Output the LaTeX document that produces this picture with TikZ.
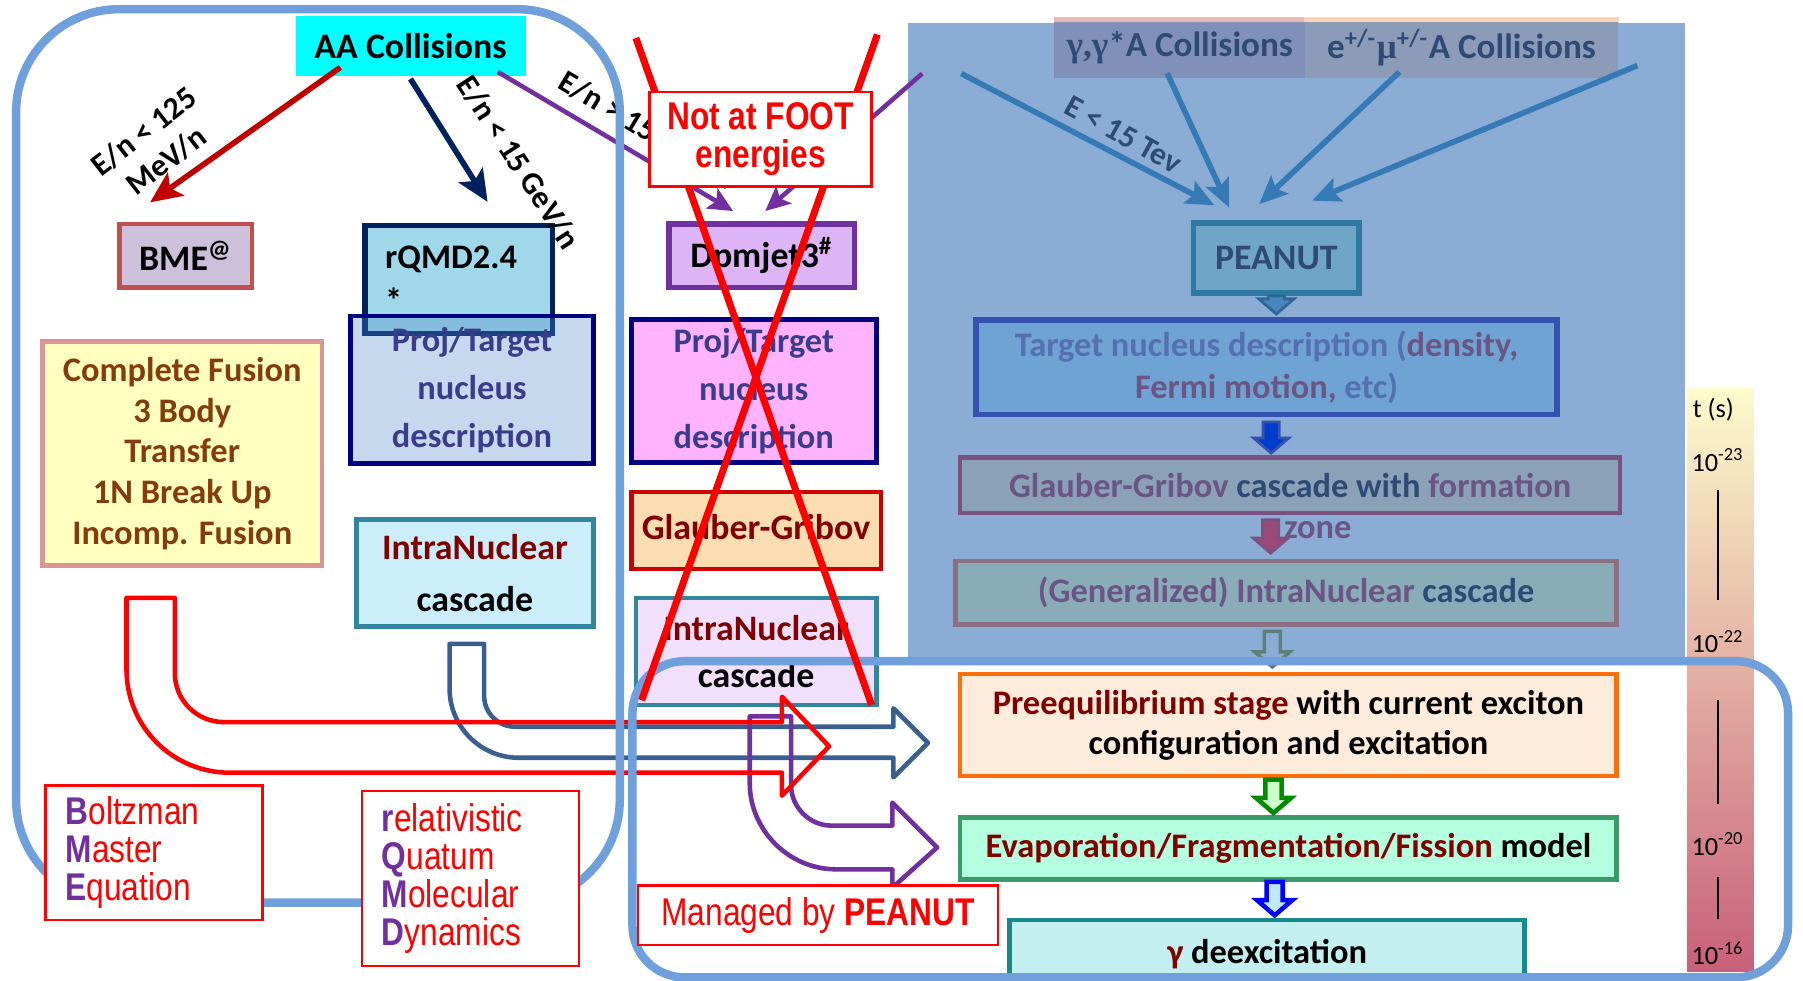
\documentclass[tikz,border=0pt]{standalone}
\usepackage{fontspec}
\setmainfont{Carlito}
\newfontfamily\arialn[FakeStretch=0.82]{Liberation Sans}
\newfontfamily\grk{Liberation Serif}
\usepackage{tikz}
\usetikzlibrary{calc,arrows.meta}
\newcommand{\px}{0.0115cm}
\newcommand{\ini}[1]{\textcolor{lpurple}{\bfseries #1}}

\definecolor{outl}{HTML}{6FA0DC}
\definecolor{aqua}{HTML}{00FFFF}
\definecolor{peanbg}{HTML}{8BADD5}
\definecolor{hdrA}{HTML}{8190B8}
\definecolor{hdrAtop}{HTML}{E6B9B8}
\definecolor{hdrB}{HTML}{8C9CB8}
\definecolor{hdrBtop}{HTML}{FCD5B4}
\definecolor{fadetxt}{HTML}{2F4B75}
\definecolor{fadearr}{HTML}{3579B5}
\definecolor{fadepurp}{HTML}{6A5585}
\definecolor{fadeblue}{HTML}{5570B0}
\definecolor{peanbd}{HTML}{2E79A2}
\definecolor{peanfill}{HTML}{6FA5C6}
\definecolor{tgtbd}{HTML}{3352B0}
\definecolor{tgtfill}{HTML}{6FA3D3}
\definecolor{glbd}{HTML}{7A5282}
\definecolor{glfill}{HTML}{8AA1B8}
\definecolor{genbd}{HTML}{8A7080}
\definecolor{genfill}{HTML}{8AACB8}
\definecolor{genarr}{HTML}{5E7F78}
\definecolor{mauve}{HTML}{9A4A78}
\definecolor{darkred}{HTML}{800000}
\definecolor{darkred2}{HTML}{C00000}
\definecolor{brownt}{HTML}{843C0C}
\definecolor{slate}{HTML}{3C3C8C}
\definecolor{lpurple}{HTML}{7030A0}
\definecolor{navy}{HTML}{002060}
\definecolor{navyb}{HTML}{000080}
\definecolor{bmebd}{HTML}{C0504D}
\definecolor{bmefill}{HTML}{CCC0DA}
\definecolor{rqfill}{HTML}{A0D8EA}
\definecolor{projL}{HTML}{4B87C9}
\definecolor{cfbd}{HTML}{D99694}
\definecolor{cffill}{HTML}{FFFFC0}
\definecolor{incbd}{HTML}{31859C}
\definecolor{incL}{HTML}{CCEEFA}
\definecolor{incM}{HTML}{F1E0FB}
\definecolor{dpmfill}{HTML}{DDB5F7}
\definecolor{projM}{HTML}{FFB3FF}
\definecolor{redbd}{HTML}{CC0000}
\definecolor{glM}{HTML}{FCDDB2}
\definecolor{preqbd}{HTML}{FF6D0A}
\definecolor{preqfill}{HTML}{FDEBDC}
\definecolor{evbd}{HTML}{3A9A6A}
\definecolor{evfill}{HTML}{B3FFDF}
\definecolor{gmbd}{HTML}{168A8A}
\definecolor{gmfill}{HTML}{C4EFF0}
\definecolor{steel}{HTML}{3A5F8F}
\definecolor{barTop}{HTML}{FDFBCB}
\definecolor{barMid}{HTML}{EBCBA2}
\definecolor{barBot}{HTML}{C8607A}

\tikzset{
  sz/.style 2 args={minimum width=#1*\px, minimum height=#2*\px},
  box/.style={draw, rectangle, inner sep=0pt, align=center, line width=1.3pt,
    font=\bfseries\fontsize{9.8}{12}\selectfont},
  fnt/.style={font=\bfseries\fontsize{9.8}{#1}\selectfont},
  big/.style={font=\bfseries\fontsize{10.2}{12}\selectfont},
  hdr/.style={inner sep=0pt, text=fadetxt, font=\bfseries\fontsize{10}{12}\selectfont},
  lbl/.style={inner sep=0pt, align=center, font=\bfseries\fontsize{9}{10.5}\selectfont},
  tlbl/.style={inner sep=0pt, font=\fontsize{7.5}{9}\selectfont},
  arr/.style={line width=1.6pt, -{Stealth[length=9pt,width=8pt,inset=2pt]}},
  parr/.style={lpurple, line width=1.3pt, -{Stealth[length=7pt,width=6.5pt,inset=1.5pt]}},
  bluearr/.style={fadearr, line width=1.6pt, -{Stealth[length=8pt,width=7pt,inset=1.5pt]}},
  fat/.style={line width=1.3pt, line join=round},
  region/.style={draw=outl, line width=2.4pt, rounded corners=1.03cm},
  strike/.style={red, line width=2pt},
  tmark/.style={line width=0.8pt, xshift=-0.06cm},
  legbox/.style={draw=red, line width=0.7pt, fill=white, inner sep=0pt, inner xsep=0.2cm,
    text width=1.77cm, align=left, text=red, font=\arialn\fontsize{11}{10.8}\selectfont}
}

\begin{document}
\begin{tikzpicture}[x=\px, y=-\px]
\newcommand{\fatdown}[3]{%
  \draw[#1] let \p1=(#2), \p2=(#3) in
    (\x1-2.3pt,\y1) -- (\x1+2.3pt,\y1) -- (\x1+2.3pt,\y2+4.3pt) -- (\x1+5pt,\y2+4.3pt)
    -- (\x1,\y2) -- (\x1-5pt,\y2+4.3pt) -- (\x1-2.3pt,\y2+4.3pt) -- cycle;}
\useasboundingbox (0,0) rectangle (1568,853);

%% PEANUT side
\fill[peanbg] (790,20) rectangle (1465,575);
\node[hdr, fill=hdrA, sz={218}{53}] (hdra) at (1026,41.5) {{\grk γ,γ}*A Collisions};
\node[hdr, fill=hdrB, sz={272}{53}] (hdrb) at (1271,41.5) {e\textsuperscript{+/-}{\grk μ}\textsuperscript{+/-}A Collisions};
\fill[hdrAtop] (hdra.north west) rectangle ($(hdra.north east)+(0,5)$);
\fill[hdrBtop] (hdrb.north west) rectangle ($(hdrb.north east)+(0,5)$);
\node[box, draw=peanbd, fill=peanfill, line width=1.6pt, sz={144}{61}, text=fadetxt, big] (peanut) at (1110,224.5) {PEANUT};
\coordinate (esrc) at (836,64);
\coordinate (rsrc) at (1424,57);
\draw[bluearr] (esrc) -- ($(peanut.north)+(-54,-13)$);
\draw[bluearr] ($(hdra.south)+(-11,-5)$) -- ($(peanut.north)+(-41,-11)$);
\draw[bluearr] ($(hdrb.south)+(-54,-6)$) -- ($(peanut.north)+(-15,-14)$);
\draw[bluearr] (rsrc) -- ($(peanut.north)+(31,-17)$);
\node[lbl, text=fadetxt, rotate=-29] (elbl) at (977,117) {E < 15 Tev};
\node[box, draw=tgtbd, fill=tgtfill, line width=1.6pt, sz={505}{82}, fnt=11.8, text=fadeblue] (target) at (1101.5,319.5)
  {Target nucleus description (\textcolor{fadepurp}{density,}\\\textcolor{fadepurp}{Fermi motion,} etc)};
\node[box, draw=glbd, fill=glfill, sz={574}{48}, text=fadepurp] (glaubR) at (1122,422)
  {Glauber-Gribov \textcolor{fadetxt}{cascade with} formation};
\node[inner sep=0pt, text=fadepurp, fnt=12] (zone) at (1146,461) {zone};
\node[box, draw=genbd, fill=genfill, sz={575}{55}, text=fadepurp] (gen) at (1118.5,515.5)
  {(Generalized) IntraNuclear \textcolor{fadetxt}{cascade}};
\fatdown{draw=fadearr!85!black, fill=fadearr!90!white, line width=0.8pt}{peanut.south}{$(target.north)+(0,-3)$}
\fatdown{draw=tgtbd, fill=blue!70!cyan!80!black, line width=0.8pt}{$(target.south)+(4,4)$}{$(glaubR.north)+(0,-2)$}
\fatdown{draw=glbd, fill=mauve, line width=0.8pt}{$(glaubR.south)+(-17,4)$}{$(gen.north)+(0,-5)$}

%% time scale
\shade[top color=barTop, middle color=barMid, bottom color=barBot] (1467,338) rectangle (1525,845);
\node[tlbl] (tsec) at (1490,356) {t (s)};
\node[tlbl] (t23) at (1494,400) {10\textsuperscript{-23}};
\node[tlbl] (t22) at (1494,558) {10\textsuperscript{-22}};
\node[tlbl] (t20) at (1494,734) {10\textsuperscript{-20}};
\node[tlbl] (t16) at (1494,829) {10\textsuperscript{-16}};
\draw[tmark, shorten <=0.18cm, shorten >=0.3cm] (t23) -- (t22);
\draw[tmark, shorten <=0.46cm, shorten >=0.28cm] (t22) -- (t20);
\draw[tmark, shorten <=0.21cm, shorten >=0.22cm] (t20) -- (t16);

%% AA collisions
\node[fill=aqua, inner sep=0pt, sz={200}{52}, big] (aa) at (357,40) {AA Collisions};
\node[box, draw=bmebd, fill=bmefill, sz={115}{55}, big] (bme) at (161.5,222.5) {BME\textsuperscript{@}};
\node[box, draw=navy, fill=rqfill, line width=1.6pt, minimum height=94*\px, text width=1.472cm,
  inner xsep=0.2cm, align=left, fnt=12.5] (rqmd) at (399,243) {rQMD2.4\\{*}};
\node[box, draw=navyb, fill=projL, fill opacity=0.32, text opacity=1, sz={211}{128}, text=slate, fnt=13.7] (projl) at (410.5,339)
  {Proj/Target\\nucleus\\description};
\node[box, draw=cfbd, fill=cffill, sz={243}{195}, text=brownt, fnt=11.6] (cf) at (158.5,394.5)
  {Complete Fusion\\3 Body\\Transfer\\1N Break Up\\Incomp. Fusion};
\node[box, draw=incbd, fill=incL, sz={206}{93}, font=\bfseries\fontsize{10.2}{14.7}\selectfont] (incl) at (413,498.5)
  {\textcolor{darkred}{IntraNuclear}\\cascade};
\draw[arr, darkred2] ($(aa.south)+(-61,-8)$) -- ($(bme.north)+(-31,-17)$);
\draw[arr, navy] ($(aa.south)+(0,2)$) -- ($(rqmd.north)+(25,-18)$);
\node[lbl, rotate=38] (l125) at (135,127) {E/n < 125\\MeV/n};
\node[lbl, rotate=-57] (l15) at (451,141) {E/n < 15 GeV/n};
\node[lbl, rotate=-31] (lgt) at (563,113) {E/n > 15 GeV/n};

%% DPMJET column
\node[box, draw=lpurple, fill=dpmfill, line width=1.6pt, sz={161}{55}, big] (dpm) at (662.5,222.5) {Dpmjet3\textsuperscript{\#}};
\node[box, draw=navyb, fill=projM, sz={213}{124}, text=slate, fnt=13.7] (projm) at (655.5,340)
  {Proj/Target\\nucleus\\description};
\node[box, draw=redbd, fill=glM, sz={217}{67}, text=darkred, big] (glaubm) at (657.5,461.5) {\raisebox{2pt}{Glauber-Gribov}};
\node[box, draw=incbd, fill=incM, sz={209}{93}, font=\bfseries\fontsize{10.2}{13.4}\selectfont] (incm) at (657.5,566.5)
  {\textcolor{darkred}{IntraNuclear}\\cascade};
\coordinate (psrc) at (802,64);
\draw[parr] ($(aa.south)+(76,-4)$) -- ($(dpm.north)+(-25,-9)$);
\draw[parr] (psrc) -- ($(dpm.north)+(3,-9)$);

%% de-excitation chain
\node[box, draw=preqbd, fill=preqfill, sz={571}{89}, fnt=11.4] (preeq) at (1120.5,630.5)
  {\textcolor{darkred}{Preequilibrium stage} with current exciton\\configuration and excitation};
\node[box, draw=evbd, fill=evfill, sz={571}{54}] (evap) at (1120.5,738)
  {\textcolor{darkred}{Evaporation/Fragmentation/Fission} model};
\node[box, draw=gmbd, fill=gmfill, sz={448}{60}] (gam) at (1102,830) {\textcolor{darkred}{γ} deexcitation};
\fatdown{draw=genarr, line width=1pt}{$(gen.south)+(-12,4)$}{$(preeq.north)+(0,-4)$}
\fatdown{draw=green!55!black, fill=green!20, line width=1.3pt}{$(preeq.south)+(-13,1)$}{$(evap.north)+(0,-2)$}
\fatdown{draw=blue, fill=cyan!25, line width=1.3pt}{$(evap.south)+(-12,0)$}{$(gam.north)+(0,-2)$}

%% big bent arrows
\draw[fat, steel] (391,560) -- (391,599) .. controls (391,632) and (418,659) .. (451,659) -- (777,659) -- (777,676)
  -- (807,646) -- (777,616) -- (777,632) -- (448,632) .. controls (433,632) and (421,620) .. (421,605) -- (421,560) -- cycle;
\draw[fat, lpurple] (652,623) -- (652,681) .. controls (652,722) and (686,756) .. (727,756) -- (776,756) -- (776,772)
  -- (815,737) -- (776,698) -- (776,718) -- (723,718) .. controls (704,718) and (688,702) .. (688,683) -- (688,623) -- cycle;
\draw[fat, red] (110,520) -- (110,582) .. controls (110,632) and (150,672) .. (200,672) -- (680,672) -- (680,692)
  -- (721,649) -- (680,606) -- (680,628) -- (195,628) .. controls (171,628) and (152,609) .. (152,585) -- (152,520) -- cycle;

%% frames
\draw[region] (14,8) rectangle (539,785);
\draw[region, rounded corners=0.52cm] (550,575) rectangle (1555,850);

%% crossed out
\draw[strike] (553,33) -- (758,613);
\draw[strike] (763,30) -- (558,609);
\node[draw=red, line width=0.8pt, fill=white, inner sep=0pt, sz={193}{82}, align=center, text=red,
  font=\arialn\bfseries\fontsize{11}{10.8}\selectfont] (foot) at (661.5,121) {Not at FOOT\\energies};

%% legends
\node[legbox, minimum height=117*\px] (bmeleg) at (134,741.5) {\ini{B}oltzman\\\ini{M}aster\\\ini{E}quation};
\node[legbox, minimum height=152*\px] (rqleg) at (409,764) {\ini{r}elativistic\\\ini{Q}uatum\\\ini{M}olecular\\\ini{D}ynamics};
\node[draw=red, line width=0.7pt, fill=white, inner sep=0pt, sz={313}{52}, text=red,
  font=\arialn\fontsize{11}{13}\selectfont] (mgd) at (711.5,796) {Managed by \textbf{PEANUT}};
\end{tikzpicture}
\end{document}
